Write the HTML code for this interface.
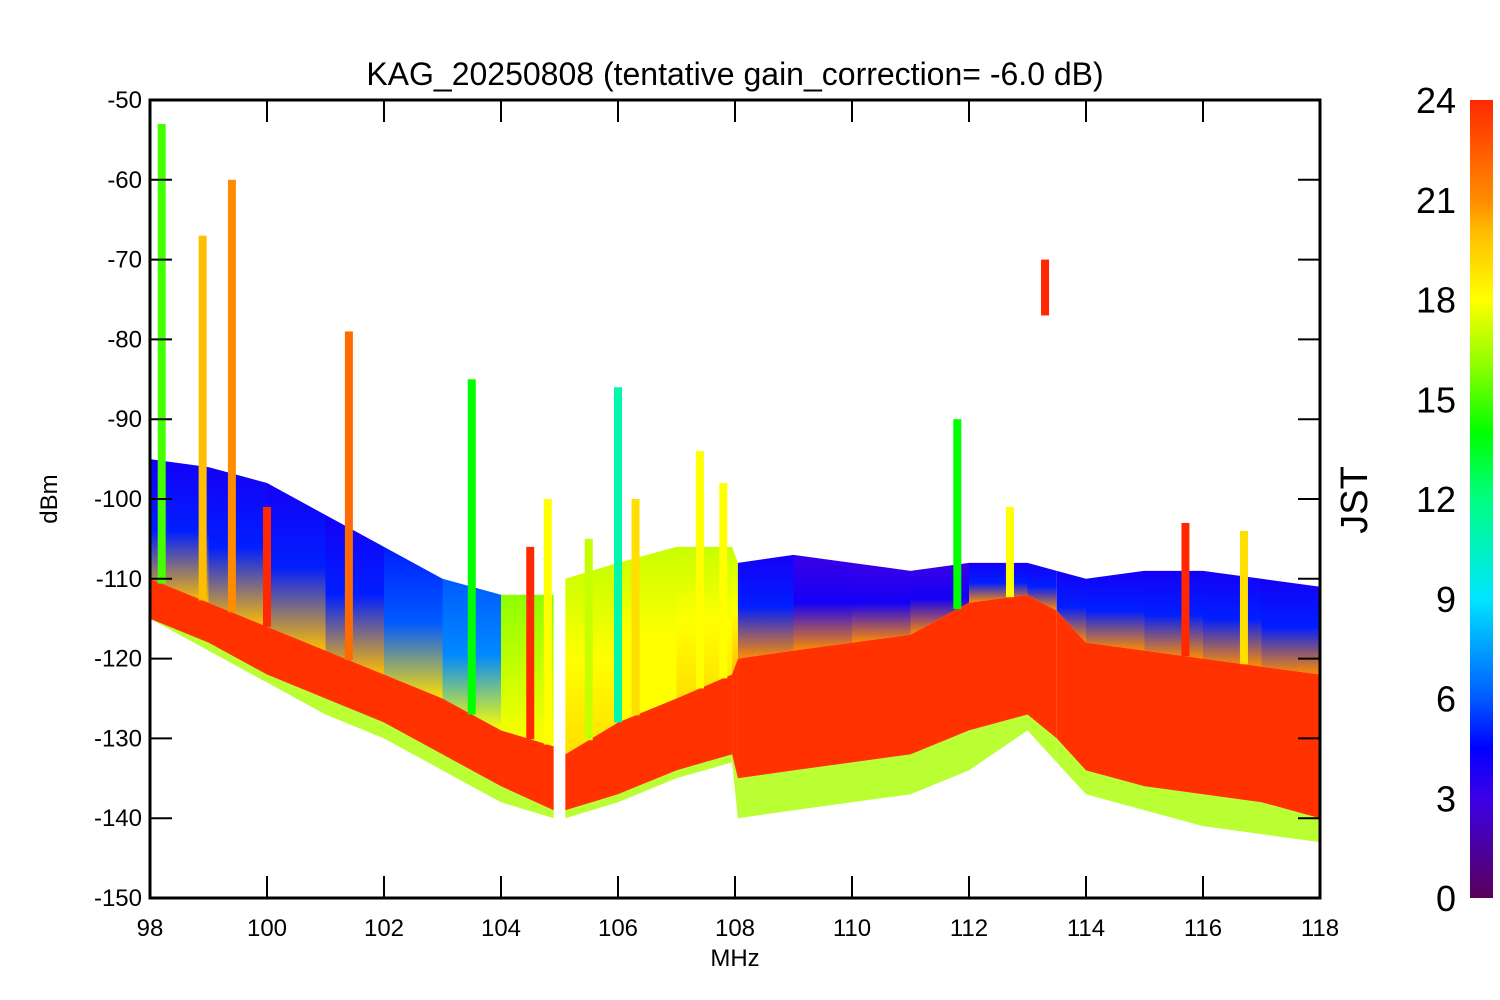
<!DOCTYPE html>
<html><head><meta charset="utf-8">
<style>
html,body{margin:0;padding:0;background:#fff;}
svg{display:block;font-family:"Liberation Sans",sans-serif;}
</style></head>
<body>
<svg id="chart" width="1500" height="1000" viewBox="0 0 1500 1000" xmlns="http://www.w3.org/2000/svg">
<defs id="defs"></defs>
<g id="bands"></g>
<g id="spikes"></g>
<g id="axes"></g>
</svg>
<script>
// ---- data ----
var freqs      = [98, 99, 100, 101, 102, 103, 104, 104.9, 105.1, 106, 107, 107.95, 108.05, 109, 110, 111, 112, 113, 113.5, 114, 115, 116, 117, 118];
var cloudTop   = [-95, -96, -98, -102, -106, -110, -112, -112, -110, -108, -106, -106, -108, -107, -108, -109, -108, -108, -109, -110, -109, -109, -110, -111];
var redTop     = [-110, -113, -116, -119, -122, -125, -129, -131, -132, -128, -125, -122, -120, -119, -118, -117, -113, -112, -114, -118, -119, -120, -121, -122];
var redBottom  = [-115, -118, -122, -125, -128, -132, -136, -139, -139, -137, -134, -132, -135, -134, -133, -132, -129, -127, -130, -134, -136, -137, -138, -140];
var noiseFloor = [-115, -119, -123, -127, -130, -134, -138, -140, -140, -138, -135, -133, -140, -139, -138, -137, -134, -129, -133, -137, -139, -141, -142, -143];
var upperHour  = [4, 4, 4, 4, 5, 6, 16, 17, 17, 17, 17, 17, 4, 3, 3, 3, 4, 4, 4, 4, 4, 4, 4, 4];
var lowerHour  = [20, 20, 20, 20, 19, 18, 18, 19, 19, 18, 19, 20, 21, 21, 21, 21, 21, 21, 21, 21, 21, 21, 21, 21];
var spikeFreq  = [98.2, 98.9, 99.4, 100, 101.4, 103.5, 104.5, 104.8, 105.5, 106, 106.3, 107.4, 107.8, 111.8, 112.7, 113.3, 115.7, 116.7];
var spikeTop   = [-53, -67, -60, -101, -79, -85, -106, -100, -105, -86, -100, -94, -98, -90, -101, -70, -103, -104];
var spikeHour  = [15, 20, 21, 24, 22, 14, 24, 18, 17, 11, 19, 18, 18, 14, 18, 24, 24, 19];
var cbTicks    = [0, 3, 6, 9, 12, 15, 18, 21, 24];
var yTicks     = [-50, -60, -70, -80, -90, -100, -110, -120, -130, -140, -150];
var xTicks     = [98, 100, 102, 104, 106, 108, 110, 112, 114, 116, 118];

// ---- scales ----
var X0 = 150, X1 = 1320, Y0 = 100, Y1 = 898;
function sx(f){ return X0 + (f - 98) / 20 * (X1 - X0); }
function sy(v){ return Y0 + (-50 - v) / 100 * (Y1 - Y0); }
var stops = [[0,[90,0,90]],[3,[60,0,230]],[4.5,[0,0,255]],[6,[0,90,255]],[9,[0,230,255]],[12,[0,255,130]],[14,[0,255,0]],[16,[140,255,0]],[18,[255,255,0]],[20,[255,190,0]],[21,[255,140,0]],[24,[255,40,0]]];
function hc(h){
  for (var i=1;i<stops.length;i++){
    if (h<=stops[i][0]){
      var a=stops[i-1],b=stops[i],t=(h-a[0])/(b[0]-a[0]);
      return 'rgb('+[0,1,2].map(function(k){return Math.round(a[1][k]+(b[1][k]-a[1][k])*t);}).join(',')+')';
    }
  }
  return 'rgb(255,40,0)';
}
var NS='http://www.w3.org/2000/svg';
function mk(tag, attrs, parent){ var e=document.createElementNS(NS,tag); for(var k in attrs) e.setAttribute(k,attrs[k]); parent.appendChild(e); return e; }
var defs=document.getElementById('defs'), bands=document.getElementById('bands'), spikes=document.getElementById('spikes'), axes=document.getElementById('axes');

// ---- bands ----
for (var i=0;i<freqs.length-1;i++){
  if (freqs[i]===104.9) continue;
  var gid='g'+i;
  var lg=mk('linearGradient',{id:gid,x1:0,y1:0,x2:0,y2:1},defs);
  mk('stop',{offset:'0',  'stop-color':hc(upperHour[i])},lg);
  mk('stop',{offset:'0.5','stop-color':hc(upperHour[i]+1)},lg);
  mk('stop',{offset:'1',  'stop-color':hc(lowerHour[i])},lg);
  var a=freqs[i], b=freqs[i+1];
  var p1=mk('polygon',{points:[sx(a)+','+sy(cloudTop[i]),sx(b)+','+sy(cloudTop[i+1]),sx(b)+','+sy(redTop[i+1]),sx(a)+','+sy(redTop[i])].join(' '),fill:'url(#'+gid+')'},bands);
  
  
  var p3=mk('polygon',{points:[sx(a)+','+sy(redBottom[i]),sx(b)+','+sy(redBottom[i+1]),sx(b)+','+sy(noiseFloor[i+1]),sx(a)+','+sy(noiseFloor[i])].join(' '),fill:hc(16.5),'fill-opacity':0.8},bands);
  
  
  var p2=mk('polygon',{points:[sx(a)+','+sy(redTop[i]),sx(b)+','+sy(redTop[i+1]),sx(b)+','+sy(redBottom[i+1]),sx(a)+','+sy(redBottom[i])].join(' '),fill:'rgb(255,50,0)'},bands);
  
  
}
// ---- spikes ----
function baseAt(f){
  for (var i=0;i<freqs.length-1;i++) if (f>=freqs[i] && f<=freqs[i+1]){ var t=(f-freqs[i])/(freqs[i+1]-freqs[i]); return redTop[i]+(redTop[i+1]-redTop[i])*t; }
  return redTop[0];
}
for (var j=0;j<spikeFreq.length;j++){
  var fq=spikeFreq[j], topV=spikeTop[j], baseV=baseAt(fq);
  var botV = (spikeHour[j]===24 && topV>-75) ? topV-7 : baseV;
  var r=mk('rect',{x:sx(fq)-4,y:sy(topV),width:8,height:Math.max(2,sy(botV)-sy(topV)),fill:hc(spikeHour[j])},spikes);
  
  
}

// ---- axes ----
var frame=mk('rect',{x:X0,y:Y0,width:X1-X0,height:Y1-Y0,fill:'none',stroke:'#000','stroke-width':3},axes);


yTicks.forEach(function(v){
  var y=sy(v);
  mk('line',{x1:X0,y1:y,x2:X0+22,y2:y,stroke:'#000','stroke-width':2},axes);
  mk('line',{x1:X1,y1:y,x2:X1-22,y2:y,stroke:'#000','stroke-width':2},axes);
  var t=mk('text',{x:X0-8,y:y+8,'text-anchor':'end','font-size':24},axes);
  t.textContent=v;
  
  
});
xTicks.forEach(function(f){
  var x=sx(f);
  mk('line',{x1:x,y1:Y1,x2:x,y2:Y1-22,stroke:'#000','stroke-width':2},axes);
  mk('line',{x1:x,y1:Y0,x2:x,y2:Y0+22,stroke:'#000','stroke-width':2},axes);
  var t=mk('text',{x:x,y:936,'text-anchor':'middle','font-size':24},axes);
  t.textContent=f;
  
  
});
var title=mk('text',{x:735,y:85,'text-anchor':'middle','font-size':32},axes);
title.textContent='KAG_20250808 (tentative gain_correction= -6.0 dB)';


var xl=mk('text',{x:735,y:966,'text-anchor':'middle','font-size':24},axes);
xl.textContent='MHz';


var yl=mk('text',{x:57,y:499,'text-anchor':'middle','font-size':24,transform:'rotate(-90 57 499)'},axes);
yl.textContent='dBm';



// ---- colorbar ----
var cg=mk('linearGradient',{id:'cbg',x1:0,y1:1,x2:0,y2:0},defs);
stops.forEach(function(s){ mk('stop',{offset:(s[0]/24).toFixed(3),'stop-color':hc(s[0])},cg); });
var cb=mk('rect',{x:1470,y:100,width:23,height:798,fill:'url(#cbg)'},axes);


cbTicks.forEach(function(h){
  var y=898-h/24*798;
  var t=mk('text',{x:1456,y:y+13,'text-anchor':'end','font-size':36},axes);
  t.textContent=h;
  
  
});
var jl=mk('text',{x:1367,y:500,'text-anchor':'middle','font-size':38,transform:'rotate(-90 1367 500)'},axes);
jl.textContent='JST';


</script>
</body></html>
